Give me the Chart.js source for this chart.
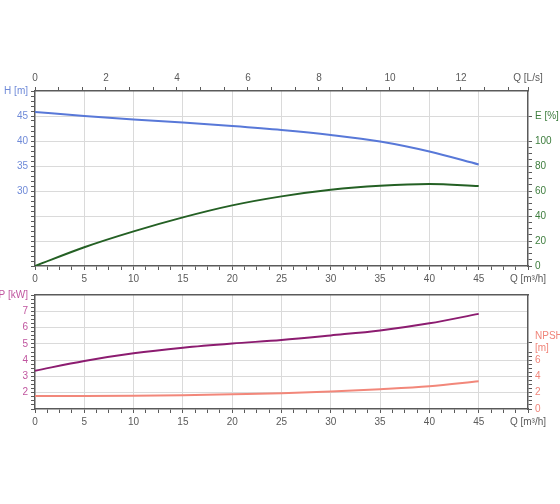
<!DOCTYPE html>
<html lang="en">
<head>
<meta charset="UTF-8">
<title>Pump curve</title>
<script src="https://cdn.jsdelivr.net/npm/chart.js"></script>
<style>
  body { margin: 0; background: #fff; width: 560px; height: 504px; position: relative; overflow: hidden; }
  canvas { position: absolute; left: 0; }
  #topChart { top: 0; width: 560px; height: 290px; }
  #bottomChart { top: 280px; width: 560px; height: 224px; }
</style>
</head>
<body>
<canvas id="topChart" width="560" height="290"></canvas>
<canvas id="bottomChart" width="560" height="224"></canvas>
<script>
// flow in m3/h and the curves
const flowM3h = [0, 5, 10, 15, 20, 25, 30, 35, 40, 45];
const head = [45.8, 45.0, 44.3, 43.7, 43.0, 42.2, 41.2, 39.9, 37.9, 35.3];
const efficiency = [0, 15, 27.7, 38.9, 48.5, 55.7, 61, 64.2, 65.6, 64];
const power = [3.35, 3.95, 4.42, 4.76, 5.02, 5.24, 5.52, 5.82, 6.26, 6.84];
const npsh = [1.6, 1.6, 1.62, 1.68, 1.8, 1.93, 2.16, 2.44, 2.8, 3.4];

// axis labels
const qLabels = [0, 5, 10, 15, 20, 25, 30, 35, 40, 45];
const qLsLabels = [0, 2, 4, 6, 8, 10, 12];
const headLabels = [30, 35, 40, 45];
const effLabels = [0, 20, 40, 60, 80, 100];
const powerLabels = [2, 3, 4, 5, 6, 7];
const npshLabels = [0, 2, 4, 6];

const font = { family: "'Liberation Sans', Arial, sans-serif", size: 10 };
const axisGray = '#5a5a5a';
const gridGray = '#dadada';

function range(from, to, step) {
    const out = [];
    const n = Math.round((to - from) / step);
    for (let i = 0; i <= n; i++) out.push(+(from + i * step).toFixed(4));
    return out;
}
function near(a, b) { return Math.abs(a - b) < 1e-3; }
function has(list, v) { return list.some(x => near(x, v)); }

function pts(ys) { return flowM3h.map((q, i) => ({ x: q, y: ys[i] })); }

function line(data, color, axis) {
    return {
        data: pts(data), yAxisID: axis, borderColor: color, borderWidth: 2,
        pointRadius: 0, fill: false, cubicInterpolationMode: 'monotone'
    };
}

// builds a linear axis with minor ticks and custom labels
function axis(opts) {
    return {
        type: 'linear',
        position: opts.position,
        min: opts.min,
        max: opts.max,
        afterFit: s => { if (opts.width) s.width = opts.width; if (opts.height) s.height = opts.height; },
        afterBuildTicks: s => { s.ticks = opts.ticks.map(v => ({ value: v })); },
        ticks: {
            display: opts.ticks.length > 0,
            autoSkip: false, maxRotation: 0, minRotation: 0, padding: 3,
            color: opts.color, font: font,
            callback: v => opts.label(v)
        },
        grid: {
            drawOnChartArea: !!opts.grid,
            drawTicks: opts.ticks.length > 0,
            color: c => (opts.grid && c.tick && opts.grid(c.tick.value)) ? gridGray : 'rgba(0,0,0,0)',
            tickColor: axisGray, tickLength: 4, lineWidth: 1
        },
        border: { color: axisGray, width: 1.5 }
    };
}

const qAxis = height => axis({
    position: 'bottom', min: 0, max: 50, height: height, color: axisGray,
    ticks: range(0, 50, 1.25),
    label: v => near(v, 50) ? 'Q [m³/h]' : (has(qLabels, v) ? String(v) : ''),
    grid: v => near(v % 5, 0) && v > 0 && v < 50
});

const common = {
    responsive: false, animation: false,
    layout: { padding: 0 },
    plugins: { legend: { display: false }, tooltip: { enabled: false } }
};

new Chart(document.getElementById('topChart'), {
    type: 'line',
    data: {
        datasets: [
            line(head, '#5878d8', 'y'),
            line(efficiency, '#246024', 'y2')
        ]
    },
    options: Object.assign({}, common, {
        scales: {
            x: qAxis(24),
            x2: axis({
                position: 'top', min: 0, max: 50 / 3.6, height: 91, color: axisGray,
                ticks: range(0, 40 / 3, 2 / 3).concat([50 / 3.6]),
                label: v => near(v, 50 / 3.6) ? 'Q [L/s]' : (has(qLsLabels, v) ? String(Math.round(v)) : '')
            }),
            y: axis({
                position: 'left', min: 15, max: 50, width: 35, color: '#6f8ad8',
                ticks: range(15, 50, 1),
                label: v => near(v, 50) ? 'H [m]' : (has(headLabels, v) ? String(v) : ''),
                grid: v => near(v % 5, 0) && v > 15 && v < 50
            }),
            y2: axis({
                position: 'right', min: 0, max: 140, width: 32, color: '#3d7d3d',
                ticks: range(0, 100, 5).concat([120]),
                label: v => near(v, 120) ? 'E [%]' : (has(effLabels, v) ? String(v) : '')
            })
        }
    })
});

new Chart(document.getElementById('bottomChart'), {
    type: 'line',
    data: {
        datasets: [
            line(power, '#8c1c70', 'y'),
            line(npsh, '#f2877a', 'y2')
        ]
    },
    options: Object.assign({}, common, {
        scales: {
            x: qAxis(95),
            // top frame line only
            x2: axis({
                position: 'top', min: 0, max: 50, height: 13, color: axisGray,
                ticks: [], label: () => ''
            }),
            y: axis({
                position: 'left', min: 1, max: 8, width: 35, color: '#c0559f',
                ticks: range(1, 8, 0.25),
                label: v => near(v, 8) ? 'P [kW]' : (has(powerLabels, v) ? String(v) : ''),
                grid: v => near(v % 1, 0) && v > 1 && v < 8
            }),
            y2: axis({
                position: 'right', min: 0, max: 14, width: 32, color: '#f0857a',
                ticks: range(0, 7, 0.5).concat([8.2]),
                label: v => near(v, 8.2) ? ['NPSH', '[m]'] : (has(npshLabels, v) ? String(v) : '')
            })
        }
    })
});
</script>
</body>
</html>
